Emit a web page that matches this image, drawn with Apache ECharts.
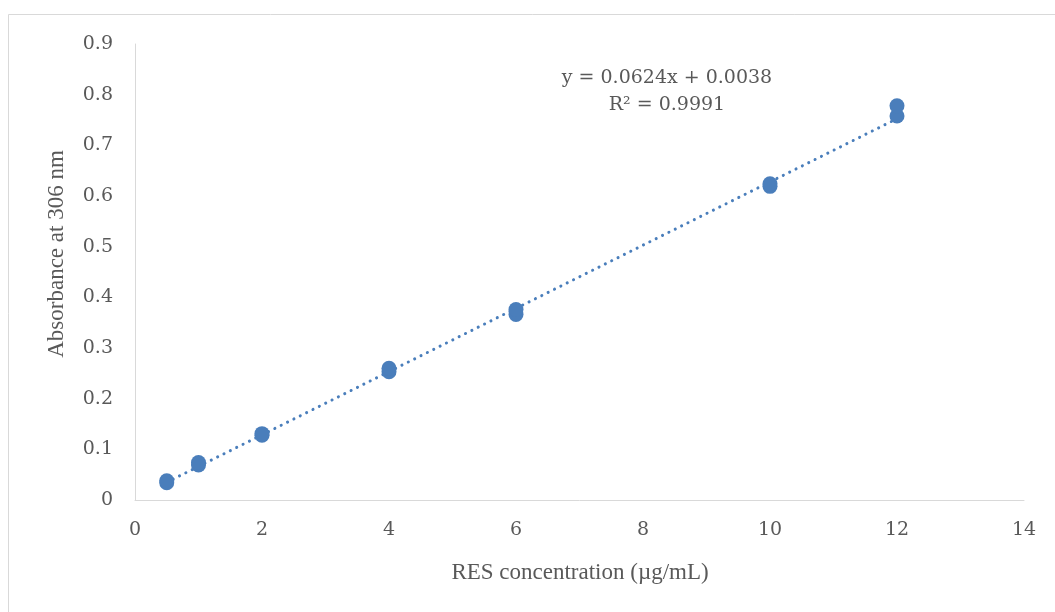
<!DOCTYPE html>
<html>
<head>
<meta charset="utf-8">
<script src="https://cdn.jsdelivr.net/npm/echarts@6/dist/echarts.min.js"></script>
<style>html,body{margin:0;padding:0;background:#fff;}#c{width:1055px;height:612px;}</style>
</head>
<body>
<div id="c"></div>
<script>
const concX = [0.5, 0.5, 1, 1, 2, 2, 4, 4, 6, 6, 10, 10, 12, 12];
const absY  = [0.034, 0.038, 0.069, 0.074, 0.128, 0.131, 0.253, 0.260, 0.366, 0.376, 0.619, 0.624, 0.758, 0.778];
const trendSlope = 0.0624;
const trendIntercept = 0.0038;
const trendRangeX = [0.5, 12];
const yTicks = [0, 0.1, 0.2, 0.3, 0.4, 0.5, 0.6, 0.7, 0.8, 0.9];
const xTicks = [0, 2, 4, 6, 8, 10, 12, 14];
const eqLine1 = 'y = 0.0624x + 0.0038';
const eqLine2 = 'R² = 0.9991';
const xTitle = 'RES concentration (µg/mL)';
const yTitle = 'Absorbance at 306 nm';

const pts = concX.map((x, i) => [x, absY[i]]);
const trend = trendRangeX.map(x => [x, trendSlope * x + trendIntercept]);
const col = '#4a7ebb';
const serif = '"Liberation Serif", "Times New Roman", serif';
const tickFont = '"DejaVu Serif", serif';

const chart = echarts.init(document.getElementById('c'), null, {renderer: 'canvas'});
chart.setOption({
  backgroundColor: '#fff',
  animation: false,
  grid: {left: 135, right: 31, top: 44, bottom: 112},
  xAxis: {
    type: 'value', min: 0, max: 14, interval: 2,
    axisLine: {show: true, lineStyle: {color: '#d9d9d9', width: 1}},
    axisTick: {show: false},
    splitLine: {show: false},
    axisLabel: {color: '#595959', fontFamily: tickFont, fontSize: 19, margin: 21,
      formatter: v => xTicks.includes(v) ? String(v) : ''}
  },
  yAxis: {
    type: 'value', min: 0, max: 0.9, interval: 0.1,
    axisLine: {show: true, lineStyle: {color: '#d9d9d9', width: 1}},
    axisTick: {show: false},
    splitLine: {show: false},
    axisLabel: {color: '#595959', fontFamily: tickFont, fontSize: 19, margin: 22, padding: [5, 0, 0, 0],
      formatter: v => { const t = yTicks.find(k => Math.abs(k - v) < 1e-9); return t === undefined ? '' : (t === 0 ? '0' : t.toFixed(1)); }}
  },
  series: [
    {
      type: 'line', data: trend, symbol: 'none', z: 1,
      lineStyle: {color: col, width: 3, type: [0.1, 7], cap: 'round'}
    },
    {
      type: 'scatter', data: pts, symbol: 'circle', symbolSize: 15, z: 2,
      itemStyle: {color: col, opacity: 1}
    }
  ],
  graphic: [
    {type: 'rect', shape: {x: 8.5, y: 14.5, width: 1060, height: 620}, style: {fill: 'none', stroke: '#d9d9d9', lineWidth: 1}, z: -10},
    {type: 'text', x: 667, y: 78, style: {text: eqLine1, font: '19px ' + tickFont, fill: '#595959', align: 'center', verticalAlign: 'middle'}},
    {type: 'text', x: 667, y: 105, style: {text: eqLine2, font: '19px ' + tickFont, fill: '#595959', align: 'center', verticalAlign: 'middle'}},
    {type: 'text', x: 580, y: 573, style: {text: xTitle, font: '23px ' + serif, fill: '#595959', align: 'center', verticalAlign: 'middle'}},
    {type: 'text', x: 57, y: 254, rotation: Math.PI / 2, style: {text: yTitle, font: '23px ' + serif, fill: '#595959', align: 'center', verticalAlign: 'middle'}}
  ]
});
</script>
</body>
</html>
